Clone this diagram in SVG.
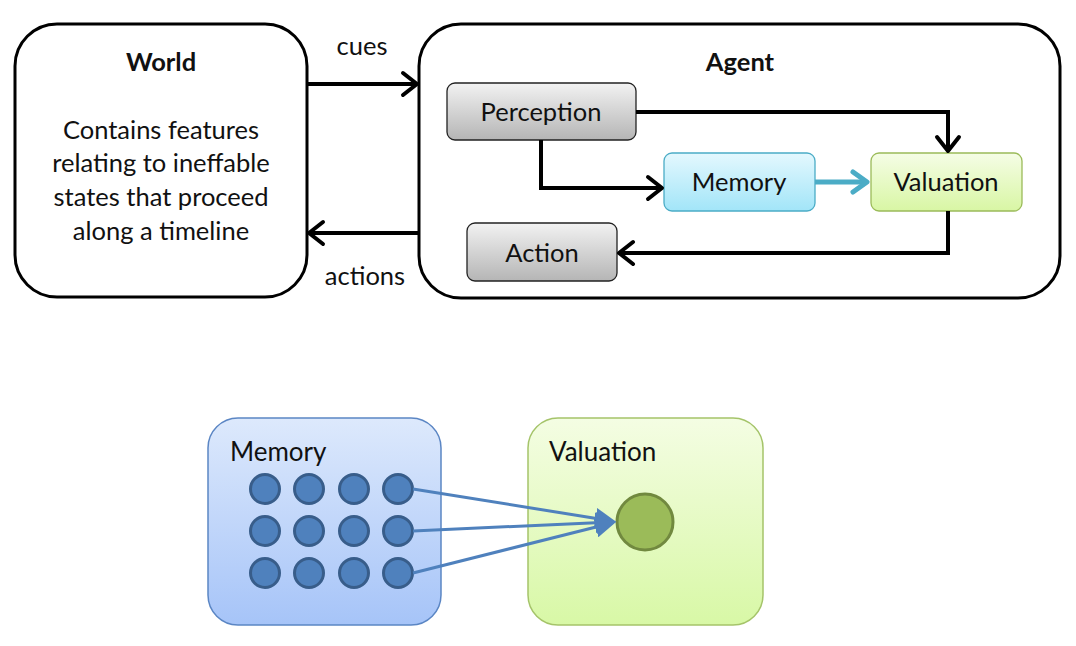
<svg xmlns="http://www.w3.org/2000/svg" width="1076" height="646" viewBox="0 0 1076 646">
<defs>
<linearGradient id="gGray" x1="0" y1="0" x2="0" y2="1"><stop offset="0" stop-color="#f2f2f2"/><stop offset="1" stop-color="#b5b5b5"/></linearGradient>
<linearGradient id="gCyan" x1="0" y1="0" x2="0" y2="1"><stop offset="0" stop-color="#e4f8fe"/><stop offset="1" stop-color="#a2e5f8"/></linearGradient>
<linearGradient id="gGreen" x1="0" y1="0" x2="0" y2="1"><stop offset="0" stop-color="#f5fde6"/><stop offset="1" stop-color="#d8f6a4"/></linearGradient>
<linearGradient id="gBlue" x1="0" y1="0" x2="0" y2="1"><stop offset="0" stop-color="#dde9fc"/><stop offset="1" stop-color="#a6c4f8"/></linearGradient>
<linearGradient id="gGreen2" x1="0" y1="0" x2="0" y2="1"><stop offset="0" stop-color="#f4fde3"/><stop offset="1" stop-color="#d8f8a6"/></linearGradient>
<marker id="head" viewBox="0 0 10 10" refX="8" refY="5" markerWidth="7" markerHeight="7" orient="auto">
<path d="M0,0 L10,5 L0,10 z" fill="#4f81bd"/>
</marker>
</defs>
<style>
.big{fill:#fff;stroke:#000;stroke-width:3}
.t{font-family:Lato,"Open Sans","Liberation Sans",sans-serif;fill:#111;font-size:25.5px}
.b{font-weight:bold}
.box{stroke-width:1.3}
.conn{fill:none;stroke:#000;stroke-width:4;stroke-linejoin:miter}
.ah{fill:none;stroke:#000;stroke-width:4;stroke-linecap:round;stroke-linejoin:round}
.dot{fill:#4f81bd;stroke:#385d8a;stroke-width:3}
.bl{fill:none;stroke:#4f81bd;stroke-width:3}
</style>
<g id="world">
<rect class="big" x="15" y="24" width="292" height="273" rx="42"/>
<text class="t b" x="161" y="71" text-anchor="middle">World</text>
<text class="t" x="161" y="139" text-anchor="middle">Contains features</text>
<text class="t" x="161" y="172" text-anchor="middle">relating to ineffable</text>
<text class="t" x="161" y="206" text-anchor="middle">states that proceed</text>
<text class="t" x="161" y="240" text-anchor="middle">along a timeline</text>
</g>
<g id="agent">
<rect class="big" x="419" y="24" width="641" height="274" rx="42"/>
<text class="t b" x="740" y="71" text-anchor="middle">Agent</text>
</g>
<g id="perception">
<rect class="box" x="447" y="83" width="189" height="57" rx="8" fill="url(#gGray)" stroke="#222"/>
<text class="t" x="541" y="121" text-anchor="middle">Perception</text>
</g>
<g id="memory">
<rect class="box" x="664" y="153" width="151" height="58" rx="8" fill="url(#gCyan)" stroke="#4bacc6"/>
<text class="t" x="739" y="191" text-anchor="middle">Memory</text>
</g>
<g id="valuation">
<rect class="box" x="871" y="153" width="151" height="58" rx="8" fill="url(#gGreen)" stroke="#9bbb59"/>
<text class="t" x="946" y="191" text-anchor="middle">Valuation</text>
</g>
<g id="action">
<rect class="box" x="467" y="223" width="150" height="58" rx="8" fill="url(#gGray)" stroke="#222"/>
<text class="t" x="542" y="262" text-anchor="middle">Action</text>
</g>
<g id="labels">
<text class="t" x="362" y="55" text-anchor="middle">cues</text>
<text class="t" x="365" y="285" text-anchor="middle">actions</text>
</g>
<g id="connectors">
<path class="conn" d="M307,84 H417"/>
<path class="ah" d="M403,73 L417,84 L403,95"/>
<path class="conn" d="M419,233 H309"/>
<path class="ah" d="M323,222 L309,233 L323,244"/>
<path class="conn" d="M636,112 H948 V151"/>
<path class="ah" d="M937,137 L948,151 L959,137"/>
<path class="conn" d="M541,140 V188 H662"/>
<path class="ah" d="M648,177 L662,188 L648,199"/>
<path class="conn" d="M948,211 V253 H619"/>
<path class="ah" d="M633,242 L619,253 L633,264"/>
<path d="M815,182 H864" fill="none" stroke="#4bacc6" stroke-width="5"/>
<path d="M853,172 L867,182 L853,192" fill="none" stroke="#4bacc6" stroke-width="5" stroke-linejoin="round" stroke-linecap="round"/>
</g>
<g id="memory2">
<rect x="208" y="418" width="233" height="207" rx="30" fill="url(#gBlue)" stroke="#5b86c4" stroke-width="1.5"/>
<text class="t" x="230" y="461" style="font-size:26px">Memory</text>
<circle class="dot" cx="265" cy="489" r="14.5"/><circle class="dot" cx="309" cy="489" r="14.5"/><circle class="dot" cx="354" cy="489" r="14.5"/><circle class="dot" cx="398" cy="489" r="14.5"/>
<circle class="dot" cx="265" cy="531" r="14.5"/><circle class="dot" cx="309" cy="531" r="14.5"/><circle class="dot" cx="354" cy="531" r="14.5"/><circle class="dot" cx="398" cy="531" r="14.5"/>
<circle class="dot" cx="265" cy="573" r="14.5"/><circle class="dot" cx="309" cy="573" r="14.5"/><circle class="dot" cx="354" cy="573" r="14.5"/><circle class="dot" cx="398" cy="573" r="14.5"/>
</g>
<g id="valuation2">
<rect x="528" y="418" width="235" height="207" rx="30" fill="url(#gGreen2)" stroke="#a5c46a" stroke-width="1.5"/>
<text class="t" x="549" y="461" style="font-size:26px">Valuation</text>
<circle cx="645" cy="522" r="28" fill="#9bbb59" stroke="#71893f" stroke-width="3"/>
</g>
<g id="connectors2">
<path class="bl" d="M413,489 L612,521" marker-end="url(#head)"/>
<path class="bl" d="M413,531 L612,522" marker-end="url(#head)"/>
<path class="bl" d="M413,573 L612,523" marker-end="url(#head)"/>
</g>
</svg>
